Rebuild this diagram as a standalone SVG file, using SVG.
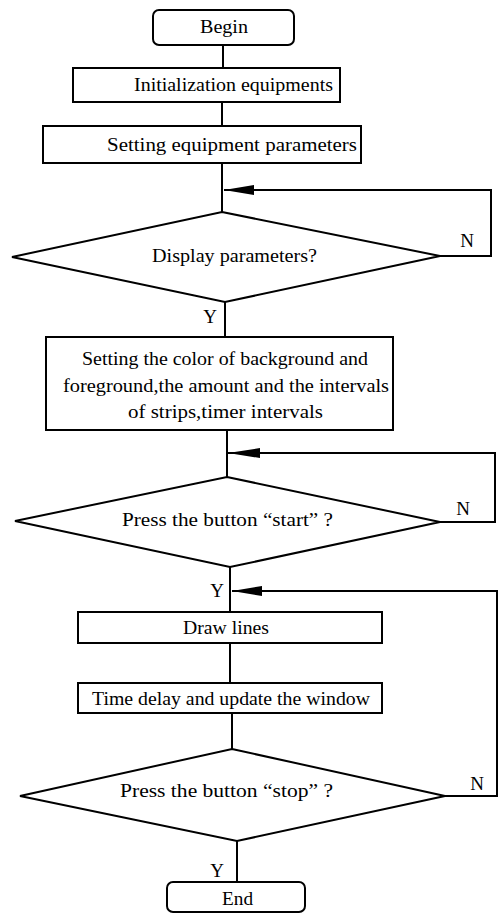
<svg xmlns="http://www.w3.org/2000/svg" width="499" height="914" viewBox="0 0 499 914">
<style>
.box{fill:#fff;stroke:#000;stroke-width:2}
.ln{fill:none;stroke:#000;stroke-width:2}
.ah{fill:#000;stroke:none}
text{font-family:"Liberation Serif","Times New Roman",serif;font-size:19px;fill:#000}
.c{text-anchor:middle}
</style>
<rect width="499" height="914" fill="#fff"/>
<g id="connectors">
<path class="ln" d="M223 45V68"/>
<path class="ln" d="M222 102V126"/>
<path class="ln" d="M222 163V212"/>
<path class="ln" d="M440 256H491V190H224"/>
<polygon class="ah" points="224,190 254,185 254,195"/>
<path class="ln" d="M225 302V337"/>
<text x="210" y="323" class="c">Y</text>
<path class="ln" d="M227 430V477"/>
<path class="ln" d="M440 522H495V453H228"/>
<polygon class="ah" points="228,453 260,448 260,458"/>
<text x="463" y="515" class="c">N</text>
<path class="ln" d="M230 567V612"/>
<text x="217" y="597" class="c">Y</text>
<path class="ln" d="M230 643V683"/>
<path class="ln" d="M232 713V749"/>
<path class="ln" d="M445 796H497V591H232"/>
<polygon class="ah" points="232,591 262,586 262,596"/>
<text x="477" y="790" class="c">N</text>
<path class="ln" d="M237 841V882"/>
<text x="217" y="877" class="c">Y</text>
<text x="467" y="247" class="c">N</text>
</g>
<g id="begin">
<rect class="box" x="153" y="10" width="141" height="35" rx="6"/>
<text x="224" y="33" class="c" textLength="48" lengthAdjust="spacingAndGlyphs">Begin</text>
</g>
<g id="init">
<rect class="box" x="73" y="68" width="267" height="34"/>
<text x="233.5" y="91" class="c" textLength="199" lengthAdjust="spacingAndGlyphs">Initialization equipments</text>
</g>
<g id="setparams">
<rect class="box" x="43" y="126" width="318" height="37"/>
<text x="232" y="151" class="c" textLength="250" lengthAdjust="spacingAndGlyphs">Setting equipment parameters</text>
</g>
<g id="display">
<polygon class="box" points="222,212 440,256 225,302 12,257"/>
<text x="234.5" y="262" class="c" textLength="165" lengthAdjust="spacingAndGlyphs">Display parameters?</text>
</g>
<g id="setcolor">
<rect class="box" x="46" y="337" width="347" height="93"/>
<text x="225" y="365" class="c" textLength="286" lengthAdjust="spacingAndGlyphs">Setting the color of background and</text>
<text x="226" y="392" class="c" textLength="326" lengthAdjust="spacingAndGlyphs">foreground,the amount and the intervals</text>
<text x="225.5" y="418" class="c" textLength="195" lengthAdjust="spacingAndGlyphs">of strips,timer intervals</text>
</g>
<g id="start">
<polygon class="box" points="227,477 440,522 230,567 15,521"/>
<text x="227.5" y="526" class="c" textLength="211" lengthAdjust="spacingAndGlyphs">Press the button  “start” ?</text>
</g>
<g id="draw">
<rect class="box" x="78" y="612" width="304" height="31"/>
<text x="226" y="634" class="c" textLength="86" lengthAdjust="spacingAndGlyphs">Draw lines</text>
</g>
<g id="delay">
<rect class="box" x="78" y="683" width="304" height="30"/>
<text x="231" y="705" class="c" textLength="278" lengthAdjust="spacingAndGlyphs">Time delay and update the window</text>
</g>
<g id="stop">
<polygon class="box" points="232,749 445,796 237,841 20,796"/>
<text x="226.5" y="797" class="c" textLength="213" lengthAdjust="spacingAndGlyphs">Press the button  “stop” ?</text>
</g>
<g id="end">
<rect class="box" x="167" y="882" width="138" height="30" rx="6"/>
<text x="237.5" y="905" class="c" textLength="31" lengthAdjust="spacingAndGlyphs">End</text>
</g>
</svg>
